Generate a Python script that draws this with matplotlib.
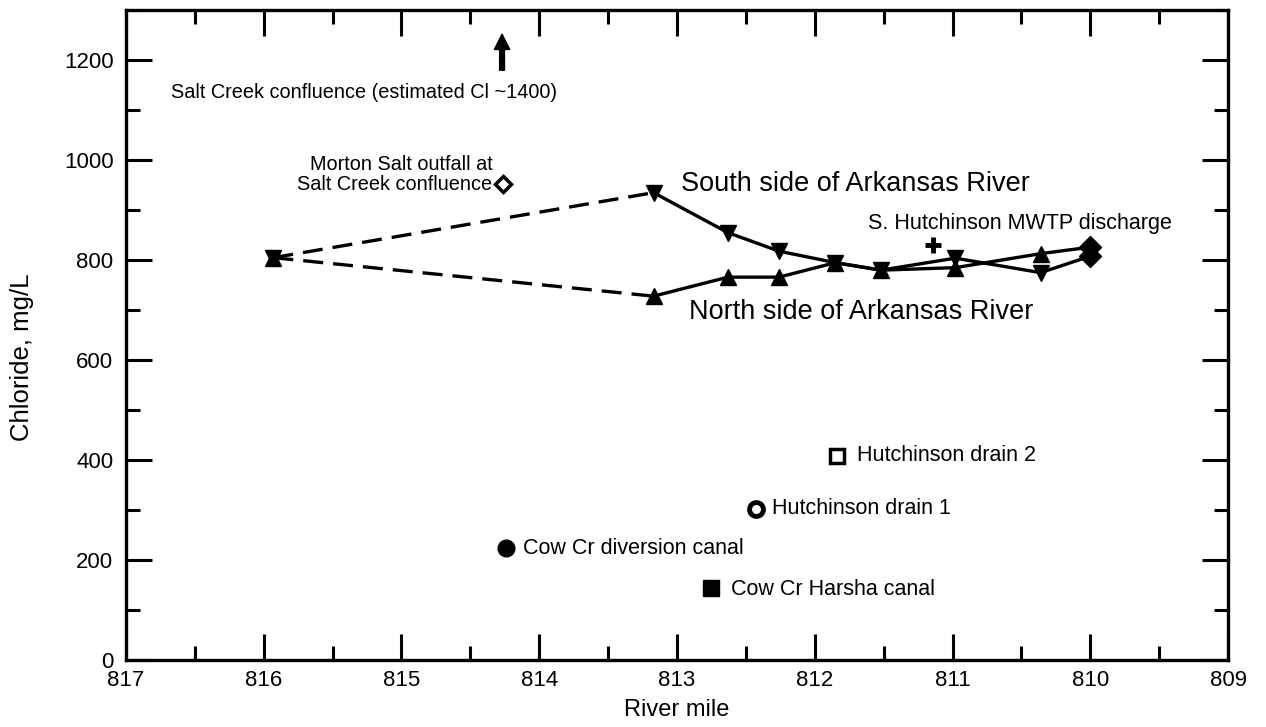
import matplotlib
matplotlib.use("Agg")
import matplotlib.pyplot as plt
from matplotlib.ticker import MultipleLocator

plt.rcParams['font.family'] = ['Liberation Sans', 'DejaVu Sans']

# river mile of the sampling sites along the main stem
river_mile = [815.93, 813.17, 812.63, 812.26, 811.85, 811.52, 810.98, 810.36, 810.0]
# chloride, mg/L
south_cl = [805, 935, 855, 818, 795, 780, 804, 775, 808]
north_cl = [805, 728, 766, 766, 795, 780, 785, 813, 826]

# single samples (tributaries, drains, outfalls)
morton_x, morton_y = 814.26, 952
mwtp_x, mwtp_y = 811.14, 830
drain2_x, drain2_y = 811.84, 408
drain1_x, drain1_y = 812.43, 302
diversion_x, diversion_y = 814.24, 224
harsha_x, harsha_y = 812.75, 144
saltcreek_x = 814.27

fig = plt.figure(figsize=(12.66, 7.27), dpi=100)
ax = fig.add_axes([0.0995, 0.092, 0.8705, 0.894])

lw = 2.4
# first reach is dashed, the rest solid
for cl in (south_cl, north_cl):
    ax.plot(river_mile[:2], cl[:2], color='black', lw=lw, linestyle=(0, (6, 3)))
    ax.plot(river_mile[1:], cl[1:], color='black', lw=lw)

ax.plot(river_mile[:-1], south_cl[:-1], 'v', color='black', ms=12, linestyle='none')
ax.plot(river_mile[:-1], north_cl[:-1], '^', color='black', ms=12, linestyle='none')
ax.plot(river_mile[-1:], south_cl[-1:], 'D', color='black', ms=11, linestyle='none')
ax.plot(river_mile[-1:], north_cl[-1:], 'D', color='black', ms=11, linestyle='none')

ax.plot(morton_x, morton_y, 'D', mfc='white', mec='black', mew=2.5, ms=8.5)
ax.plot(mwtp_x, mwtp_y, '+', color='black', mew=3.5, ms=12)
ax.plot(drain2_x, drain2_y, 's', mfc='white', mec='black', mew=2.5, ms=10)
ax.plot(drain1_x, drain1_y, 'o', mfc='white', mec='black', mew=3.5, ms=10)
ax.plot(diversion_x, diversion_y, 'o', color='black', ms=12)
ax.plot(harsha_x, harsha_y, 's', color='black', ms=12)

ax.annotate('', xy=(saltcreek_x, 1252), xytext=(saltcreek_x, 1180),
            arrowprops=dict(facecolor='black', edgecolor='black', width=3.5,
                            headwidth=11, headlength=11))

big = 19.5
ax.text(812.97, 952, 'South side of Arkansas River', fontsize=big, va='center')
ax.text(812.91, 696, 'North side of Arkansas River', fontsize=big, va='center')
ax.text(811.61, 874, 'S. Hutchinson MWTP discharge', fontsize=15.5, va='center')
ax.text(814.34, 972, 'Morton Salt outfall at\nSalt Creek confluence', fontsize=14.3,
        va='center', ha='right', linespacing=1.05)
ax.text(816.67, 1136, 'Salt Creek confluence (estimated Cl ~1400)', fontsize=14.3, va='center')
ax.text(811.69, 410, 'Hutchinson drain 2', fontsize=15.5, va='center')
ax.text(812.31, 304, 'Hutchinson drain 1', fontsize=15.5, va='center')
ax.text(814.12, 224, 'Cow Cr diversion canal', fontsize=15.5, va='center')
ax.text(812.61, 142, 'Cow Cr Harsha canal', fontsize=15.5, va='center')

ax.set_xlim(817, 809)
ax.set_ylim(0, 1300)
ax.xaxis.set_major_locator(MultipleLocator(1))
ax.xaxis.set_minor_locator(MultipleLocator(0.5))
ax.yaxis.set_major_locator(MultipleLocator(200))
ax.yaxis.set_minor_locator(MultipleLocator(100))
ax.tick_params(which='both', direction='in', top=True, right=True, width=2.2,
               labelsize=16)
ax.tick_params(which='major', length=19)
ax.tick_params(which='minor', length=10)
ax.tick_params(axis='x', pad=7)
ax.tick_params(axis='y', pad=9)
for s in ax.spines.values():
    s.set_linewidth(2.4)

ax.set_xlabel('River mile', fontsize=17, labelpad=6)
ax.set_ylabel('Chloride, mg/L', fontsize=18.5)
ax.yaxis.set_label_coords(-0.083, 0.466)

fig.savefig('out.png', dpi=100)
